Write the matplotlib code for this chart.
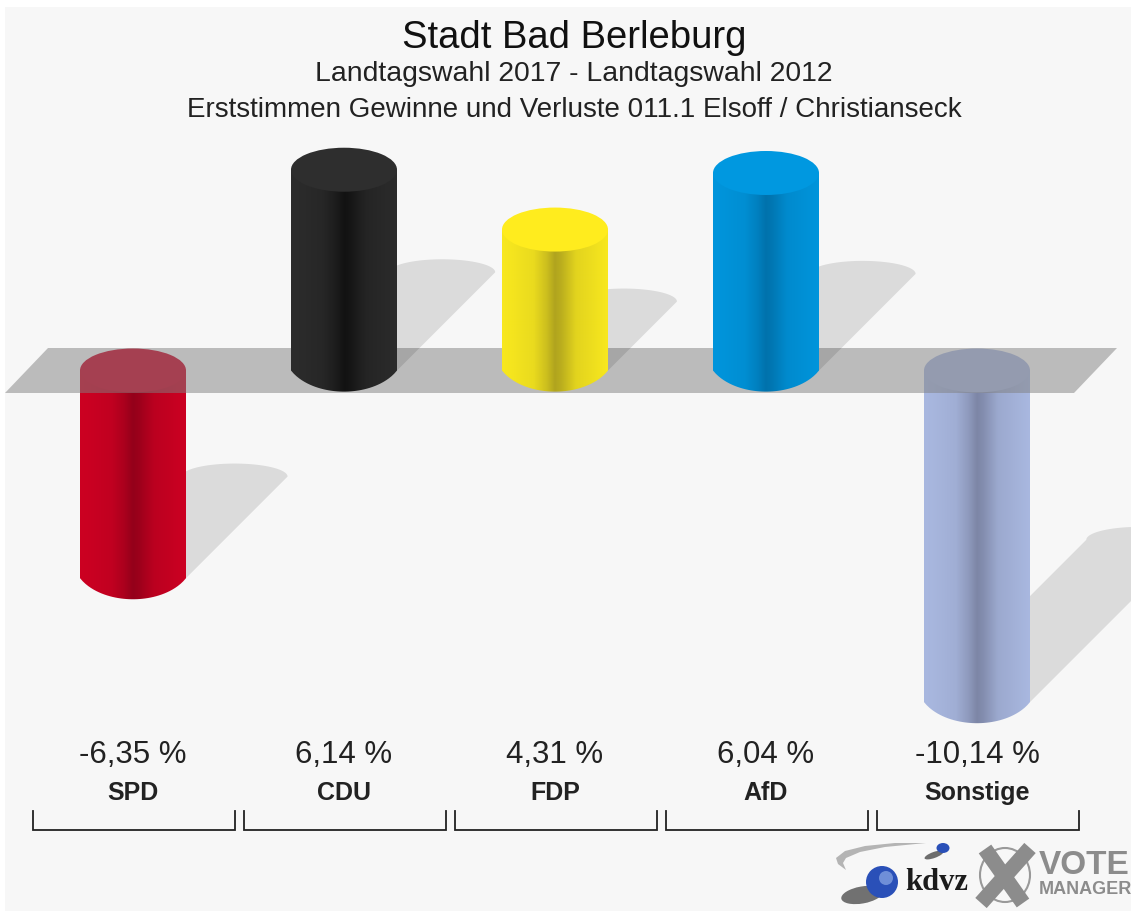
from __future__ import annotations

import matplotlib
matplotlib.use("Agg")
import matplotlib.pyplot as plt
import numpy as np
from matplotlib.patches import Circle, Ellipse, PathPatch, Polygon
from matplotlib.path import Path
from matplotlib.transforms import blended_transform_factory

parties = ["SPD", "CDU", "FDP", "AfD", "Sonstige"]
values = [-6.35, 6.14, 4.31, 6.04, -10.14]
value_labels = ["-6,35 %", "6,14 %", "4,31 %", "6,04 %", "-10,14 %"]
edge_colors = ["#cc0022", "#2c2c2c", "#f8e81e", "#0095dc", "#a9b8e0"]
dark_colors = ["#94001a", "#121212", "#b0a41e", "#0072ac", "#7d86a6"]
lid_colors = ["#cc0022", "#2e2e2e", "#ffec1e", "#0098e0", "#a9b8e0"]

W, H = 1131, 911
X0, STEP = 133, 211      # pixel position of first bar, bar spacing
Y0, PX_PER_PCT = 370.5, 32.7
BAR_W = 53 / STEP
LID_H = 22 / PX_PER_PCT
SHADOW_PX = 16
BG = "#f7f7f7"


def hex_rgb(c):
    return np.array(matplotlib.colors.to_rgb(c))


def cylinder_gradient(edge, dark):
    t = np.linspace(0, 1, 212)
    k = np.interp(t, [0, 0.1, 0.3, 0.42, 0.5, 0.56, 0.7, 1], [0, 0.05, 0.2, 0.6, 1, 0.85, 0.3, 0])
    return (hex_rgb(edge)[None, :] * (1 - k[:, None]) + hex_rgb(dark)[None, :] * k[:, None])[None, :, :]


def arc(cx, cy, a, b, start, stop, n=40):
    th = np.linspace(start, stop, n)
    return np.column_stack([cx + a * np.cos(th), cy + b * np.sin(th)])


def lens_bottom(x, base, n=40):
    # lower edge meets the sides at a corner, so only a part of a wider ellipse
    wide = BAR_W * 1.12
    xs = np.linspace(BAR_W, -BAR_W, n)
    curve = np.sqrt(1 - (xs / wide) ** 2)
    end = np.sqrt(1 - (BAR_W / wide) ** 2)
    return np.column_stack([x + xs, base - LID_H * 0.96 * (curve - end) / (1 - end)])


def draw_shadow(ax, x, base, v, z):
    dx = SHADOW_PX * abs(v) / STEP
    dy = SHADOW_PX * abs(v) / PX_PER_PCT
    top = arc(x + dx, base + dy, BAR_W, 13 / PX_PER_PCT, np.pi, 0)
    pts = np.vstack([top, [[x + BAR_W, base], [x - BAR_W, base]]])
    ax.add_patch(Polygon(pts, closed=True, fc="black", ec="none", alpha=0.11, zorder=z))


def draw_bar(ax, x, v, edge, dark, lid, z):
    top, base = max(v, 0), min(v, 0)
    outline = np.vstack([[[x - BAR_W, top], [x + BAR_W, top]], lens_bottom(x, base)])
    im = ax.imshow(cylinder_gradient(edge, dark), aspect="auto", zorder=z,
                   extent=[x - BAR_W, x + BAR_W, base - LID_H, top], interpolation="bilinear")
    clip = PathPatch(Path(outline), transform=ax.transData, fc="none", ec="none")
    ax.add_patch(clip)
    im.set_clip_path(clip)
    ax.add_patch(Ellipse((x, top), 2 * BAR_W, 2 * LID_H, fc=lid, ec="none", zorder=z + 0.1))


def draw_logo(deco):
    swoosh = np.array([[926, 843], [895, 843], [865, 846], [845, 851], [836, 858], [838, 864], [846, 870],
                       [843, 863], [846, 858], [860, 852], [885, 847]])
    deco.add_patch(Polygon(swoosh, closed=True, fc="#b4b4b4", ec="none", zorder=6))
    deco.add_patch(Ellipse((862, 895), 42, 17, angle=-10, fc="#444444", ec="none", alpha=0.75, zorder=6))
    deco.add_patch(Circle((882, 882), 16, fc="#2a50b8", ec="none", zorder=7))
    deco.add_patch(Circle((886, 878), 7, fc="#6f8fd8", ec="none", zorder=7))
    deco.add_patch(Ellipse((934, 855), 20, 6, angle=-20, fc="#333333", ec="none", alpha=0.7, zorder=6))
    deco.add_patch(Ellipse((943, 848), 13, 10, fc="#2a50b8", ec="none", zorder=7))
    deco.text(937, 883, "kdvz", family="Liberation Serif", fontweight="bold", fontsize=22,
              color="#1c1c1c", ha="center", va="center", zorder=7)
    deco.add_patch(Ellipse((1005, 875), 50, 54, fc="none", ec="#999999", lw=1.5, zorder=6))
    deco.plot([985, 1023], [849, 903], color="#8c8c8c", lw=11, solid_capstyle="butt", zorder=7)
    deco.plot([1030, 981], [848, 903], color="#8c8c8c", lw=11, solid_capstyle="butt", zorder=7)
    deco.text(1039, 866, "VOTE", family="Liberation Sans", fontweight="bold", fontsize=24,
              color="#8c8c8c", ha="left", va="center", zorder=7)
    deco.text(1039, 889, "MANAGER", family="Liberation Sans", fontweight="bold", fontsize=13,
              color="#8c8c8c", ha="left", va="center", zorder=7)


def main() -> None:
    fig = plt.figure(figsize=(W / 100, H / 100), dpi=100, facecolor="white")
    fig.add_artist(plt.Rectangle((5 / W, 0), 1, 1 - 7 / H, transform=fig.transFigure, fc=BG, ec="none", zorder=-1))

    ax = fig.add_axes([0, 0, 1, 1])
    ax.set_facecolor("none")
    ax.axis("off")

    deco = fig.add_axes([0, 0, 1, 1])
    deco.set_facecolor("none")
    deco.axis("off")
    deco.set_xlim(0, W)
    deco.set_ylim(H, 0)

    # plane, semi transparent so the negative bars show through it
    plane = [[5 / STEP - X0 / STEP, 393], [48 / STEP - X0 / STEP, 348],
             [(1117 - X0) / STEP, 348], [(1074 - X0) / STEP, 393]]
    blend = blended_transform_factory(ax.transData, deco.transData)
    ax.add_patch(Polygon(plane, closed=True, fc="#808080", ec="none", alpha=0.5, zorder=3, transform=blend))

    for i, v in enumerate(values):
        base = min(v, 0)
        draw_shadow(ax, i, base, v, 1 if v < 0 else 4)
        draw_bar(ax, i, v, edge_colors[i], dark_colors[i], lid_colors[i], 2 if v < 0 else 5)

    ax.set_xlim(-X0 / STEP, (W - X0) / STEP)
    ax.set_ylim((Y0 - H) / PX_PER_PCT, Y0 / PX_PER_PCT)

    for i, party in enumerate(parties):
        ax.text(i, 755, value_labels[i], transform=blend, ha="center", va="center",
                family="Liberation Sans", fontsize=22.5, color="#222222")
        ax.text(i, 793, party, transform=blend, ha="center", va="center",
                family="Liberation Sans", fontweight="bold", fontsize=18, color="#222222")
        ax.plot([i - 0.475, i - 0.475, i + 0.483, i + 0.483], [811, 830, 830, 811], transform=blend,
                color="#222222", lw=1.3, solid_joinstyle="miter", clip_on=False)

    deco.text(574, 38, "Stadt Bad Berleburg", ha="center", va="center",
              family="Liberation Sans", fontsize=27.5, color="#111111")
    deco.text(574, 74, "Landtagswahl 2017 - Landtagswahl 2012", ha="center", va="center",
              family="Liberation Sans", fontsize=20.4, color="#222222")
    deco.text(574, 110, "Erststimmen Gewinne und Verluste 011.1 Elsoff / Christianseck", ha="center", va="center",
              family="Liberation Sans", fontsize=20, color="#222222")

    draw_logo(deco)
    deco.set_xlim(0, W)
    deco.set_ylim(H, 0)
    fig.savefig("out.png", dpi=100)


if __name__ == "__main__":
    main()
